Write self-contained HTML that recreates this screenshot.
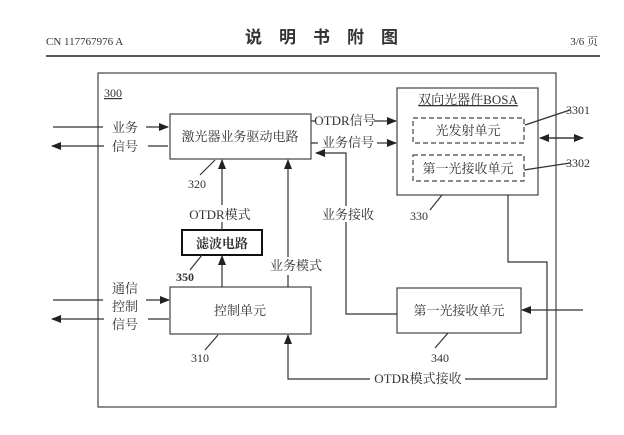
<!DOCTYPE html>
<html><head><meta charset="utf-8"><style>
body{margin:0;background:#fff}
text{font-family:"Liberation Serif","Noto Serif CJK SC",serif;fill:#333}
</style></head><body>
<svg width="624" height="430" viewBox="0 0 624 430" xmlns="http://www.w3.org/2000/svg">
<defs><marker id="a" markerWidth="10" markerHeight="8" refX="9" refY="4" orient="auto" markerUnits="userSpaceOnUse"><path d="M0,0L10,4L0,8z" fill="#222"/></marker></defs>
<g font-size="12">
<text x="46" y="45" font-size="11">CN 117767976 A</text>
<text x="330" y="43" font-size="17" text-anchor="middle" font-weight="bold" letter-spacing="17" style="font-family:'Noto Sans CJK SC',sans-serif">说明书附图</text>
<text x="598" y="45" font-size="11" text-anchor="end">3/6 页</text>
</g>
<line x1="46" y1="56" x2="600" y2="56" stroke="#222" stroke-width="1.5"/>
<g stroke="#444" stroke-width="1.2" fill="none">
<rect x="98" y="73" width="458" height="334"/>
<rect x="170" y="114" width="141" height="45"/>
<rect x="397" y="88" width="141" height="107"/>
<rect x="413" y="118" width="111" height="25" stroke-dasharray="5,3"/>
<rect x="413" y="155" width="111" height="26" stroke-dasharray="5,3"/>
<rect x="182" y="230" width="80" height="25" stroke="#111" stroke-width="2"/>
<rect x="170" y="287" width="141" height="47"/>
<rect x="397" y="288" width="124" height="45"/>
</g>
<g stroke="#333" stroke-width="1.2" fill="none">
<path d="M53,127H103M146,127H168" marker-end="url(#a)"/>
<path d="M168,146H148M104,146H52" marker-end="url(#a)"/>
<path d="M311,121H316M374,121H396" marker-end="url(#a)"/>
<path d="M311,143H318M377,143H396" marker-end="url(#a)"/>
<path d="M540,138H583" marker-end="url(#a)"/><path d="M583,138H540" marker-end="url(#a)"/>
<path d="M525,125L570,110M524,170L570,163"/>
<path d="M222,205V160" marker-end="url(#a)"/><path d="M222,222V230"/>
<path d="M222,287V256" marker-end="url(#a)"/>
<path d="M288,287V275M288,257V160" marker-end="url(#a)"/>
<path d="M397,314H346V222M346,206V153H316" marker-end="url(#a)"/>
<path d="M53,300H103M146,300H169" marker-end="url(#a)"/>
<path d="M169,319H148M104,319H52" marker-end="url(#a)"/>
<path d="M583,310H522" marker-end="url(#a)"/>
<path d="M508,195V262H547V379H465M370,379H288V335" marker-end="url(#a)"/>
<path d="M215,160L200,175M442,195L430,210M202,255L190,270M218,335L205,350M448,333L435,348"/>
</g>
<g font-size="13">
<text x="104" y="97" font-size="12" text-decoration="underline">300</text>
<text x="125" y="132" text-anchor="middle">业务</text>
<text x="125" y="151" text-anchor="middle">信号</text>
<text x="240" y="141" text-anchor="middle">激光器业务驱动电路</text>
<text x="345" y="125" text-anchor="middle">OTDR信号</text>
<text x="348" y="147" text-anchor="middle">业务信号</text>
<text x="468" y="104" text-anchor="middle" text-decoration="underline">双向光器件BOSA</text>
<text x="468" y="135" text-anchor="middle">光发射单元</text>
<text x="468" y="173" text-anchor="middle">第一光接收单元</text>
<text x="566" y="114" font-size="12">3301</text>
<text x="566" y="167" font-size="12">3302</text>
<text x="188" y="188" font-size="12">320</text>
<text x="410" y="220" font-size="12">330</text>
<text x="220" y="219" text-anchor="middle">OTDR模式</text>
<text x="222" y="248" text-anchor="middle" font-weight="bold" font-size="13">滤波电路</text>
<text x="176" y="281" font-size="12" font-weight="bold">350</text>
<text x="296" y="270" text-anchor="middle">业务模式</text>
<text x="348" y="219" text-anchor="middle">业务接收</text>
<text x="125" y="293" text-anchor="middle">通信</text>
<text x="125" y="311" text-anchor="middle">控制</text>
<text x="125" y="329" text-anchor="middle">信号</text>
<text x="240" y="315" text-anchor="middle">控制单元</text>
<text x="459" y="315" text-anchor="middle">第一光接收单元</text>
<text x="200" y="362" font-size="12" text-anchor="middle">310</text>
<text x="440" y="362" font-size="12" text-anchor="middle">340</text>
<text x="418" y="383" text-anchor="middle">OTDR模式接收</text>
</g>
</svg>
</body></html>
